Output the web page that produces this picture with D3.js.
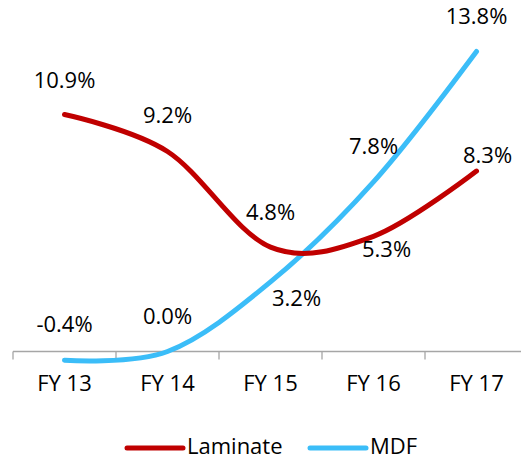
<!DOCTYPE html>
<html>
<head>
<meta charset="utf-8">
<script src="https://cdn.jsdelivr.net/npm/d3@7"></script>
<style>
  body { margin: 0; background: #fff; }
  text { font-family: "Open Sans", "Liberation Sans", sans-serif; fill: #000; }
</style>
</head>
<body>
<div id="chart"></div>
<script>
// data
var years = ["FY 13", "FY 14", "FY 15", "FY 16", "FY 17"];
var laminate = [10.9, 9.2, 4.8, 5.3, 8.3];
var mdf = [-0.4, 0.0, 3.2, 7.8, 13.8];
var seriesNames = ["Laminate", "MDF"];

// label placement (dx, dy from the point) -- layout only
var lamLabelOff = [[0, -32], [0, -34], [0, -33], [13, 15], [11, -14]];
var mdfLabelOff = [[0, -34], [0, -33], [26, 18], [0, -34], [0, -33]];

var width = 521, height = 460;
var colors = {Laminate: "#c00000", MDF: "#3bbdf8"};

var svg = d3.select("#chart").append("svg")
    .attr("width", width)
    .attr("height", height);

// scales
var x = d3.scaleBand().domain(years).range([13, 528]);
var y = d3.scaleLinear().domain([0, 13.8]).range([351.5, 51.5]);

// x axis at zero
var axis = svg.append("g")
    .attr("transform", "translate(0," + y(0) + ")");
axis.append("line")
    .attr("x1", 13).attr("x2", 528)
    .attr("stroke", "#a6a6a6").attr("stroke-width", 1.3);
axis.selectAll(".tick")
    .data(d3.range(years.length + 1))
  .enter().append("line")
    .attr("x1", function(i) { return 13 + i * x.step(); })
    .attr("x2", function(i) { return 13 + i * x.step(); })
    .attr("y1", 0).attr("y2", 8)
    .attr("stroke", "#a6a6a6").attr("stroke-width", 1.3);
axis.selectAll(".xlab")
    .data(years)
  .enter().append("text")
    .attr("x", function(d) { return x(d) + x.bandwidth() / 2; })
    .attr("y", 34)
    .attr("text-anchor", "middle")
    .attr("dominant-baseline", "middle")
    .style("font-size", "22px")
    .text(function(d) { return d; });

var line = d3.line()
    .x(function(d, i) { return x(years[i]) + x.bandwidth() / 2; })
    .y(function(d) { return y(d); })
    .curve(d3.curveCardinal.tension(0));

function drawSeries(vals, name, offs) {
  svg.append("path")
      .datum(vals)
      .attr("d", line)
      .attr("fill", "none")
      .attr("stroke", colors[name])
      .attr("stroke-width", 5)
      .attr("stroke-linecap", "round");
  svg.selectAll(".lbl-" + name)
      .data(vals)
    .enter().append("text")
      .attr("x", function(d, i) { return x(years[i]) + x.bandwidth() / 2 + offs[i][0]; })
      .attr("y", function(d, i) { return y(d) + offs[i][1]; })
      .attr("text-anchor", "middle")
      .attr("dominant-baseline", "middle")
      .style("font-size", "22px")
      .text(function(d) { return d.toFixed(1) + "%"; });
}

drawSeries(mdf, "MDF", mdfLabelOff);
drawSeries(laminate, "Laminate", lamLabelOff);

// legend
var legendX = [127, 310];
var legend = svg.selectAll(".legend")
    .data(seriesNames)
  .enter().append("g")
    .attr("transform", function(d, i) { return "translate(" + legendX[i] + ",448)"; });
legend.append("line")
    .attr("x1", 0).attr("x2", 56)
    .attr("stroke", function(d) { return colors[d]; })
    .attr("stroke-width", 5)
    .attr("stroke-linecap", "round");
legend.append("text")
    .attr("x", 60)
    .attr("y", 0)
    .attr("dominant-baseline", "middle")
    .style("font-size", "22px")
    .text(function(d) { return d; });
</script>
</body>
</html>
